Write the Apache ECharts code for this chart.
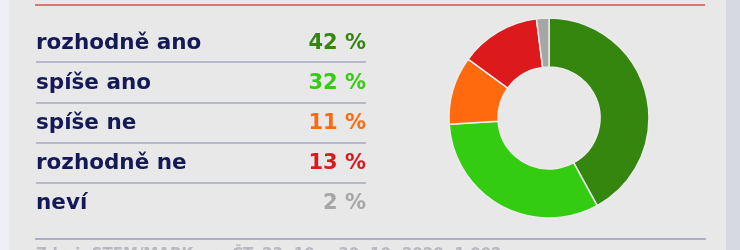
<!DOCTYPE html>
<html>
<head>
<meta charset="utf-8">
<script src="https://cdn.jsdelivr.net/npm/echarts@6/dist/echarts.min.js"></script>
<style>
html,body{margin:0;padding:0;background:#e8e8e9;}
#c{width:740px;height:250px;}
</style>
</head>
<body>
<div id="c"></div>
<script>
const categories = ['rozhodně ano', 'spíše ano', 'spíše ne', 'rozhodně ne', 'neví'];
const values = [42, 32, 11, 13, 2];
const colors = ['#35860f', '#33cc11', '#ff6a0e', '#dc1a1c', '#a6a6a8'];
const separators = [1, 2, 3, 4];
const sourceText = 'Zdroj: STEM/MARK pro ČT, 23. 10. – 30. 10. 2020, 1 002';

const chart = echarts.init(document.getElementById('c'));
const font = '"DejaVu Sans", sans-serif';

chart.setOption({
  backgroundColor: '#e8e8e9',
  animation: false,
  grid: { left: 36, right: 374, top: 22, bottom: 27 },
  xAxis: { type: 'value', min: 0, max: 1, show: false },
  yAxis: [
    { type: 'category', data: categories, inverse: true, show: false },
    { type: 'value', min: 0, max: categories.length, inverse: true, show: false }
  ],
  graphic: [
    { type: 'rect', shape: { x: 0, y: 0, width: 9, height: 250 }, style: { fill: '#eef0f6' }, silent: true },
    { type: 'rect', shape: { x: 726, y: 0, width: 14, height: 250 }, style: { fill: '#d6d9e1' }, silent: true },
    { type: 'line', shape: { x1: 35, y1: 5, x2: 705, y2: 5 }, style: { stroke: '#d9504e', lineWidth: 1.5 } },
    { type: 'line', shape: { x1: 35, y1: 239, x2: 706, y2: 239 }, style: { stroke: '#9a9dbb', lineWidth: 1.5 } },
    { type: 'text', left: 36, top: 247.5, style: { text: sourceText, fill: '#b8b8c0', font: 'bold 15px ' + font } }
  ],
  series: [
    {
      type: 'scatter', symbolSize: 0,
      itemStyle: { opacity: 1 },
      data: categories.map((c, i) => [0, c]),
      label: {
        show: true, position: 'right', distance: 0, offset: [0, 1],
        formatter: p => categories[p.dataIndex],
        color: '#131a57', fontFamily: font, fontWeight: 700, fontSize: 21.5
      }
    },
    {
      type: 'scatter', symbolSize: 0,
      itemStyle: { opacity: 1 },
      data: categories.map((c, i) => ({ value: [1, c], label: { color: colors[i] } })),
      label: {
        show: true, position: 'left', distance: 0, offset: [0, 1],
        formatter: p => values[p.dataIndex] + ' %',
        fontFamily: font, fontWeight: 700, fontSize: 21
      }
    },
    {
      type: 'line', yAxisIndex: 1, data: [], silent: true,
      markLine: {
        symbol: 'none', silent: true, label: { show: false },
        lineStyle: { color: '#a7a9c2', width: 1.5, type: 'solid' },
        data: separators.map(v => ({ yAxis: v }))
      }
    },
    {
      type: 'pie',
      center: [549, 118], radius: [51, 100],
      startAngle: 90, clockwise: true,
      label: { show: false }, labelLine: { show: false },
      itemStyle: { borderColor: '#ececec', borderWidth: 1.5 },
      data: categories.map((c, i) => ({ name: c, value: values[i], itemStyle: { color: colors[i] } }))
    }
  ]
});
</script>
</body>
</html>
